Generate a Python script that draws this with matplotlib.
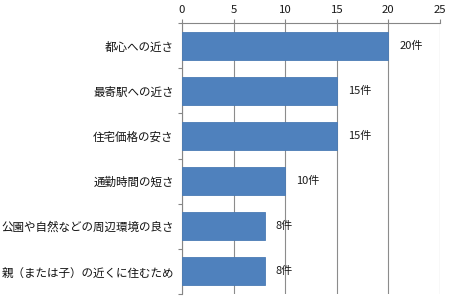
import numpy as np
import matplotlib as mpl
mpl.use('Agg')
import matplotlib.pyplot as plt

plt.rcParams['font.family'] = ['Noto Sans CJK JP', 'DejaVu Sans']

# %% data
reasons = ['都心への近さ', '最寄駅への近さ', '住宅価格の安さ', '通勤時間の短さ',
           '公園や自然などの周辺環境の良さ', '親（または子）の近くに住むため']
counts = [20, 15, 15, 10, 8, 8]
xticks = [0, 5, 10, 15, 20, 25]

# %% plot
fig = plt.figure(figsize=(4.51, 3.0), dpi=100)
ax = fig.add_axes([182/451, 1-294/300, 258/451, 271/300])

y = np.arange(len(reasons))
ax.barh(y, counts, height=0.62, color='#4F81BD', edgecolor='#4A7BB5', linewidth=0.6, zorder=3)
for yi, c in zip(y, counts):
    ax.text(c + 1.1, yi, '{}件'.format(c), va='center', ha='left', fontsize=8, color='#1a1a1a')

ax.set_xlim(0, 25)
ax.set_ylim(len(reasons) - 0.5, -0.5)
ax.set_xticks(xticks)
ax.xaxis.tick_top()
ax.tick_params(axis='x', length=3, width=0.8, color='#868686', pad=3, labelsize=8.2, labelcolor='#1a1a1a')
ax.grid(axis='x', color='#8C8C8C', linewidth=0.8, zorder=0)

ax.set_yticks(y)
ax.set_yticklabels(reasons, fontsize=8.3, color='#111111')
ax.set_yticks(np.arange(len(reasons) + 1) - 0.5, minor=True)
ax.tick_params(axis='y', which='major', length=0, pad=6)
ax.tick_params(axis='y', which='minor', length=3, width=0.8, color='#868686')

for s in ['right', 'bottom']:
    ax.spines[s].set_visible(False)
for s in ['top', 'left']:
    ax.spines[s].set_color('#868686')
    ax.spines[s].set_linewidth(0.8)

fig.savefig('out.png', dpi=100)
